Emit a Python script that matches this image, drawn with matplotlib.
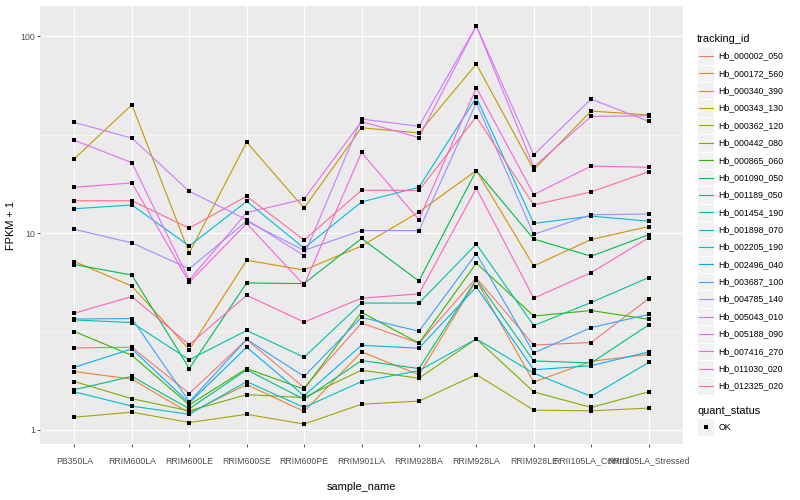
import numpy as np
import matplotlib
matplotlib.use("Agg")
import matplotlib.pyplot as plt
from matplotlib.lines import Line2D
from matplotlib.patches import Rectangle

# ---------------- data ----------------
samples = ["PB350LA", "RRIM600LA", "RRIM600LE", "RRIM600SE", "RRIM600PE",
           "RRIM901LA", "RRIM928BA", "RRIM928LA", "RRIM928LE",
           "RRII105LA_Control", "RRII105LA_Stressed"]

tracking_ids = ["Hb_000002_050", "Hb_000172_560", "Hb_000340_390", "Hb_000343_130",
                "Hb_000362_120", "Hb_000442_080", "Hb_000865_060", "Hb_001090_050",
                "Hb_001189_050", "Hb_001454_190", "Hb_001898_070", "Hb_002205_190",
                "Hb_002496_040", "Hb_003687_100", "Hb_004785_140", "Hb_005043_010",
                "Hb_005188_090", "Hb_007416_270", "Hb_011030_020", "Hb_012325_020"]

hb_000002_050 = [2.61, 2.63, 1.53, 2.88, 1.64, 3.49, 2.76, 5.92, 2.70, 2.78, 4.64]
hb_000172_560 = [1.98, 1.81, 1.22, 1.70, 1.24, 2.49, 1.91, 5.75, 1.75, 2.23, 2.42]
hb_000340_390 = [7.17, 5.38, 2.56, 7.28, 6.49, 8.60, 12.8, 20.8, 6.81, 9.28, 10.8]
hb_000343_130 = [23.9, 44.9, 7.93, 29.0, 13.4, 34.3, 32.3, 72.3, 21.0, 41.7, 39.9]
hb_000362_120 = [1.16, 1.23, 1.09, 1.20, 1.07, 1.35, 1.40, 1.91, 1.26, 1.25, 1.29]
hb_000442_080 = [1.76, 1.44, 1.25, 1.51, 1.46, 2.01, 1.83, 2.90, 1.56, 1.30, 1.56]
hb_000865_060 = [3.16, 2.39, 1.34, 2.05, 1.61, 3.96, 2.76, 7.04, 3.79, 4.04, 3.65]
hb_001090_050 = [6.92, 6.12, 2.05, 5.58, 5.54, 9.39, 5.71, 20.8, 9.33, 7.63, 9.81]
hb_001189_050 = [1.60, 1.87, 1.28, 2.02, 1.43, 2.25, 2.05, 5.81, 2.24, 2.19, 3.41]
hb_001454_190 = [3.62, 3.51, 2.27, 3.20, 2.34, 4.41, 4.41, 8.79, 3.39, 4.44, 5.94]
hb_001898_070 = [1.56, 1.32, 1.20, 1.76, 1.30, 1.76, 2.00, 2.90, 1.94, 1.48, 2.20]
hb_002205_190 = [13.3, 13.9, 8.60, 14.5, 8.38, 14.4, 17.1, 48.9, 11.2, 12.2, 11.5]
hb_002496_040 = [2.08, 2.58, 1.37, 2.63, 1.49, 2.69, 2.60, 5.32, 2.02, 2.12, 2.49]
hb_003687_100 = [3.66, 3.68, 1.39, 2.88, 1.87, 3.73, 3.17, 7.87, 2.46, 3.31, 3.86]
hb_004785_140 = [10.45, 8.92, 6.59, 11.5, 8.17, 10.3, 10.3, 45.9, 9.84, 12.4, 12.5]
hb_005043_010 = [36.5, 30.4, 16.3, 11.7, 7.69, 38.0, 34.9, 113.0, 25.0, 48.0, 37.0]
hb_005188_090 = [29.6, 22.8, 5.78, 12.7, 14.9, 36.9, 30.6, 113.0, 21.7, 39.2, 39.5]
hb_007416_270 = [17.1, 18.0, 5.62, 11.2, 5.44, 25.7, 11.7, 54.8, 15.7, 21.9, 21.6]
hb_011030_020 = [3.92, 4.76, 2.71, 4.83, 3.53, 4.67, 4.91, 16.9, 4.67, 6.30, 9.46]
hb_012325_020 = [14.6, 14.6, 10.6, 15.4, 9.22, 16.5, 16.5, 39.0, 13.9, 16.2, 20.5]

series = [hb_000002_050, hb_000172_560, hb_000340_390, hb_000343_130, hb_000362_120,
          hb_000442_080, hb_000865_060, hb_001090_050, hb_001189_050, hb_001454_190,
          hb_001898_070, hb_002205_190, hb_002496_040, hb_003687_100, hb_004785_140,
          hb_005043_010, hb_005188_090, hb_007416_270, hb_011030_020, hb_012325_020]

colors = ["#F8766D", "#EA8331", "#D89000", "#C09B00", "#A3A500", "#7CAE00", "#39B600",
          "#00BB4E", "#00BF7D", "#00C1A3", "#00BFC4", "#00BAE0", "#00B0F6", "#35A2FF",
          "#9590FF", "#C77CFF", "#E76BF3", "#FA62DB", "#FF62BC", "#FF6C91"]

# ---------------- figure ----------------
plt.rcParams['font.family'] = ['Liberation Sans', 'DejaVu Sans']
W, H = 800, 500
fig = plt.figure(figsize=(8, 5), dpi=100)
fig.patch.set_facecolor("white")

def fx(px):
    return px / W

def fy(py):
    return 1 - py / H

left, right, top, bottom = 40, 683, 6, 444
ax = fig.add_axes([fx(left), fy(bottom), fx(right) - fx(left), fy(top) - fy(bottom)])
ax.set_facecolor("#EBEBEB")
for s in ax.spines.values():
    s.set_visible(False)

x = np.arange(len(samples))
for vals, col in zip(series, colors):
    ax.plot(x, vals, color=col, lw=0.8, zorder=3, solid_capstyle="butt")
for vals in series:
    ax.plot(x, vals, ls="none", marker="s", ms=3.1, color="black", zorder=4,
            markeredgewidth=0)

ax.set_yscale("log")
allv = np.concatenate([np.asarray(v) for v in series])
lo, hi = np.log10(allv.min()), np.log10(allv.max())
pad = 0.05 * (hi - lo)
ax.set_ylim(10 ** (lo - pad), 10 ** (hi + pad))
ax.set_xlim(-0.6, len(samples) - 1 + 0.6)

# grid
for yv in [1, 10, 100]:
    ax.axhline(yv, color="white", lw=0.8, zorder=1)
for yv in [10 ** 0.5, 10 ** 1.5]:
    ax.axhline(yv, color="white", lw=0.4, zorder=1)
for xv in x:
    ax.axvline(xv, color="white", lw=0.8, zorder=1)

ax.set_yticks([1, 10, 100])
ax.set_yticklabels(["1", "10", "100"])
ax.yaxis.set_minor_locator(matplotlib.ticker.NullLocator())
ax.set_xticks(x)
ax.set_xticklabels(samples)
ax.tick_params(axis="both", which="major", length=2.0, width=0.6, color="#333333",
               labelsize=6.3, labelcolor="#4D4D4D", pad=1.6)
ax.tick_params(axis="x", pad=7, labelsize=6.3)

ax.set_xlabel("sample_name", fontsize=7.9, color="black", labelpad=12)
ax.set_ylabel("FPKM + 1", fontsize=7.9, color="black", labelpad=3)

# ---------------- legend (manual, ggplot style) ----------------
kx0, kw = 697, 17.3
step = 17.37
title_y = 39
k0 = 56
fig.text(fx(kx0), fy(title_y), "tracking_id", fontsize=7.9, va="center", ha="left")
for i, (tid, col) in enumerate(zip(tracking_ids, colors)):
    cy = k0 + i * step
    fig.add_artist(Rectangle((fx(kx0), fy(cy + step / 2)), kw / W, step / H,
                             transform=fig.transFigure, facecolor="#F2F2F2",
                             edgecolor="white", lw=0.8))
    fig.add_artist(Line2D([fx(kx0 + 1.7), fx(kx0 + kw - 1.7)], [fy(cy), fy(cy)],
                          transform=fig.transFigure, color=col, lw=0.8))
    fig.text(fx(kx0 + kw + 4), fy(cy), tid, fontsize=6.3, va="center", ha="left")

last = k0 + 19 * step
q_title = last + 25
q_key = q_title + 16
fig.text(fx(kx0), fy(q_title), "quant_status", fontsize=7.9, va="center", ha="left")
fig.add_artist(Rectangle((fx(kx0), fy(q_key + step / 2)), kw / W, step / H,
                         transform=fig.transFigure, facecolor="#F2F2F2",
                         edgecolor="white", lw=0.8))
fig.add_artist(Line2D([fx(kx0 + kw / 2)], [fy(q_key)], transform=fig.transFigure,
                      marker="s", ms=3.1, color="black", ls="none", markeredgewidth=0))
fig.text(fx(kx0 + kw + 4), fy(q_key), "OK", fontsize=6.3, va="center", ha="left")

fig.savefig("out.png", dpi=100)
